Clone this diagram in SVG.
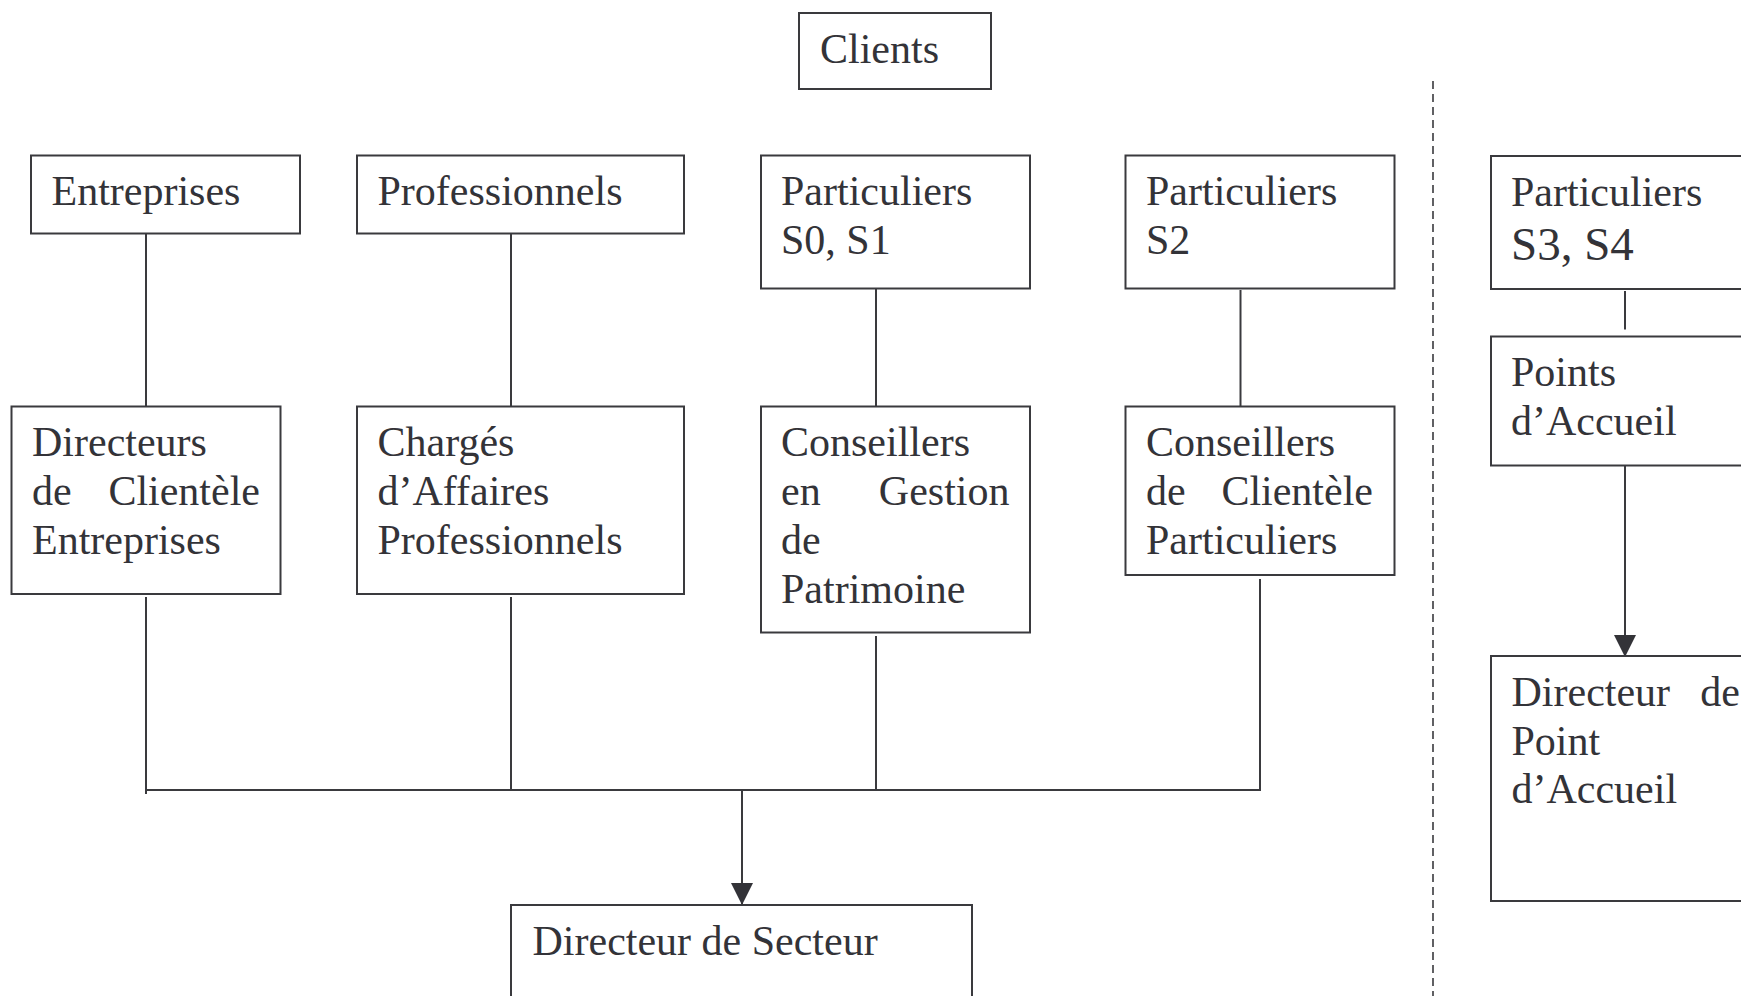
<svg xmlns="http://www.w3.org/2000/svg" width="1741" height="996" viewBox="0 0 1741 996">
<style>
.box{fill:#fff;stroke:#3a3a3e;stroke-width:2}
.t{font-family:"Liberation Serif","Times New Roman",serif;font-size:42px;fill:#333338}
.big{font-size:47px}
.end{text-anchor:end}
.ln{stroke:#3a3a3e;stroke-width:2;fill:none}
.dash{stroke:#3a3a3e;stroke-width:1.6;stroke-dasharray:8 5;fill:none}
</style>
<defs>
<marker id="arr" markerUnits="userSpaceOnUse" markerWidth="22" markerHeight="22" viewBox="0 0 20 20" refX="20" refY="10" orient="auto">
<path d="M0,0 L20,10 L0,20 Z" fill="#333338"/>
</marker>
</defs>
<rect width="1741" height="996" fill="#fff"/>
<g id="connectors">
<line class="dash" x1="1433" y1="81" x2="1433" y2="996"/>
<line class="ln" x1="146" y1="233" x2="146" y2="406"/>
<line class="ln" x1="511" y1="233" x2="511" y2="406"/>
<line class="ln" x1="876" y1="289" x2="876" y2="406"/>
<line class="ln" x1="1240.5" y1="290" x2="1240.5" y2="406"/>
<line class="ln" x1="1625" y1="291" x2="1625" y2="329.5"/>
<line class="ln" x1="1625" y1="462" x2="1625" y2="657" marker-end="url(#arr)"/>
<line class="ln" x1="146" y1="597" x2="146" y2="794"/>
<line class="ln" x1="511" y1="597" x2="511" y2="790"/>
<line class="ln" x1="876" y1="636" x2="876" y2="790"/>
<line class="ln" x1="1260" y1="579" x2="1260" y2="790"/>
<line class="ln" x1="146" y1="790" x2="1261" y2="790"/>
<line class="ln" x1="742" y1="790" x2="742" y2="905" marker-end="url(#arr)"/>
</g>
<g id="clients">
<rect class="box" x="799" y="13" width="192" height="76"/>
<text class="t" x="820" y="63">Clients</text>
</g>
<g id="entreprises">
<rect class="box" x="31" y="155.5" width="269" height="78"/>
<text class="t" x="51.5" y="205">Entreprises</text>
</g>
<g id="professionnels">
<rect class="box" x="357" y="155.5" width="327" height="78"/>
<text class="t" x="377.5" y="205">Professionnels</text>
</g>
<g id="particuliers-s0s1">
<rect class="box" x="761" y="155.5" width="269" height="133"/>
<text class="t" x="781" y="205">Particuliers</text>
<text class="t" x="781" y="254">S0, S1</text>
</g>
<g id="particuliers-s2">
<rect class="box" x="1125.5" y="155.5" width="269" height="133"/>
<text class="t" x="1146" y="205">Particuliers</text>
<text class="t" x="1146" y="254">S2</text>
</g>
<g id="particuliers-s3s4">
<rect class="box" x="1491" y="156" width="270" height="133"/>
<text class="t" x="1511" y="205.5">Particuliers</text>
<text class="t big" x="1511" y="260">S3, S4</text>
</g>
<g id="directeurs-clientele-entreprises">
<rect class="box" x="11.5" y="406.5" width="269" height="187.5"/>
<text class="t" x="32" y="456">Directeurs</text>
<text class="t" x="32" y="505">de</text>
<text class="t end" x="260" y="505">Clientèle</text>
<text class="t" x="32" y="554">Entreprises</text>
</g>
<g id="charges-affaires">
<rect class="box" x="357" y="406.5" width="327" height="187.5"/>
<text class="t" x="377.5" y="456">Chargés</text>
<text class="t" x="377.5" y="505">d’Affaires</text>
<text class="t" x="377.5" y="554">Professionnels</text>
</g>
<g id="conseillers-gestion-patrimoine">
<rect class="box" x="761" y="406.5" width="269" height="226"/>
<text class="t" x="781" y="456">Conseillers</text>
<text class="t" x="781" y="505">en</text>
<text class="t end" x="1009.5" y="505">Gestion</text>
<text class="t" x="781" y="554">de</text>
<text class="t" x="781" y="603">Patrimoine</text>
</g>
<g id="conseillers-clientele-particuliers">
<rect class="box" x="1125.5" y="406.5" width="269" height="168.5"/>
<text class="t" x="1146" y="456">Conseillers</text>
<text class="t" x="1146" y="505">de</text>
<text class="t end" x="1373" y="505">Clientèle</text>
<text class="t" x="1146" y="554">Particuliers</text>
</g>
<g id="points-accueil">
<rect class="box" x="1491" y="336.5" width="270" height="129"/>
<text class="t" x="1511" y="386">Points</text>
<text class="t" x="1511" y="435">d’Accueil</text>
</g>
<g id="directeur-point-accueil">
<rect class="box" x="1491" y="656" width="270" height="245"/>
<text class="t" x="1511.5" y="706">Directeur</text>
<text class="t end" x="1740" y="706">de</text>
<text class="t" x="1511.5" y="755">Point</text>
<text class="t" x="1511.5" y="803">d’Accueil</text>
</g>
<g id="directeur-secteur">
<rect class="box" x="511" y="905" width="461" height="120"/>
<text class="t" x="532.5" y="955">Directeur de Secteur</text>
</g>
</svg>
